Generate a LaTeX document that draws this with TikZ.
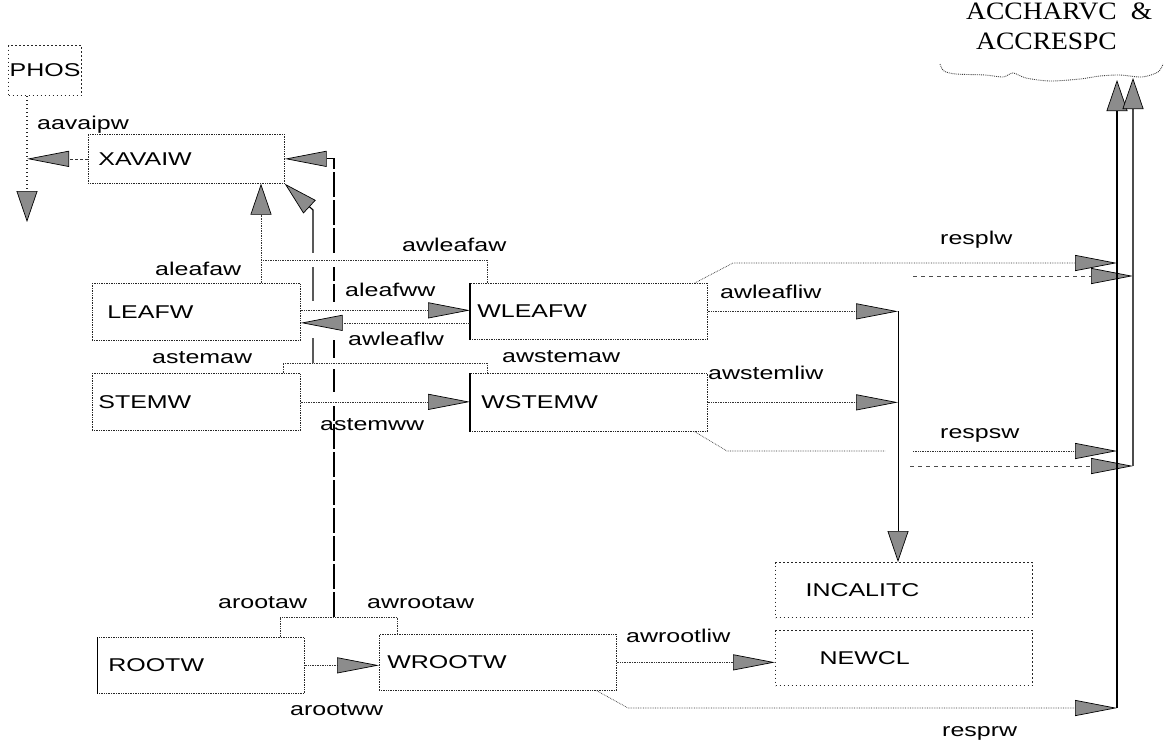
\documentclass[tikz,border=0pt]{standalone}
\usepackage{fontspec}
\setmainfont{Liberation Sans}[FakeStretch=1.35]
\newfontfamily\accfont{Liberation Serif}[FakeStretch=1.1]
\usetikzlibrary{arrows.meta}
\begin{document}
\begin{tikzpicture}[x=1pt,y=-1pt,
  every node/.style={font=\fontsize{18.5}{20}\selectfont},
  box/.style={draw=black!85, densely dotted, line width=0.7pt, anchor=north west, align=left, inner ysep=0pt},
  dbox/.style={draw=black!85, dash pattern=on 1.2pt off 2.8pt, line width=1.1pt, anchor=north west, inner ysep=0pt},
  lab/.style={anchor=west, inner sep=0pt},
  conn/.style={draw=black!80, densely dotted, line width=0.7pt},
  harr/.style={-{Triangle[length=42pt,width=16pt,fill=black!45,color=black,line width=0.7pt]}},
  varr/.style={-{Triangle[length=31pt,width=21pt,fill=black!45,color=black,line width=0.7pt]}},
  darr/.style={-{Triangle[length=34pt,width=18pt,fill=black!45,color=black,line width=0.7pt]}},
]
\useasboundingbox (0,0) rectangle (1174,745);

% ---------- boxes ----------
\node[dbox, minimum height=50pt, text width=73pt, inner xsep=0pt, align=center] (phos) at (8,45) {PHOS};
\node[box, minimum height=49pt, inner xsep=10pt, text width=176pt] (xavaiw) at (88,134) {XAVAIW};
\node[box, minimum height=57pt, inner xsep=15pt, text width=178pt] (leafw) at (92,283) {LEAFW};
\node[box, minimum height=57pt, inner xsep=6pt, text width=196pt] (stemw) at (92,373) {STEMW};
\node[box, minimum height=56pt, inner xsep=7pt, text width=223pt] (wleafw) at (470,283) {WLEAFW};
\node[box, minimum height=58pt, inner xsep=11pt, text width=215pt] (wstemw) at (470,373) {WSTEMW};
\node[box, minimum height=56pt, inner xsep=11pt, text width=185pt] (rootw) at (97,637) {ROOTW};
\node[box, minimum height=56pt, inner xsep=8pt, text width=221pt] (wrootw) at (379,634) {WROOTW};
\node[dbox, minimum height=55pt, inner xsep=30pt, text width=197pt, align=left] (incalitc) at (775,562) {INCALITC};
\node[dbox, minimum height=55pt, inner xsep=44pt, text width=169pt, align=left] (newcl) at (775,630) {NEWCL};
\draw[line width=1.1pt] (wleafw.north west) -- (wleafw.south west);
\draw[line width=1.1pt] (wstemw.north west) -- (wstemw.south west);
\draw[line width=0.9pt] (rootw.north west) -- (rootw.south west);

% cloud
\node[anchor=north west, inner sep=0pt, align=left, font=\accfont\fontsize{25}{30}\selectfont] (acc) at (966,3) {ACCHARVC\hspace{14pt}\&\\\hspace*{10pt}ACCRESPC};
\draw[black!75, densely dotted, line width=0.9pt] plot[smooth] coordinates {(940,64) (944,71) (956,74) (985,75) (1003,77) (1013,73) (1026,78) (1050,81) (1080,79) (1100,76) (1120,75) (1142,77) (1158,72) (1163,64)};

% ---------- coordinates ----------
\coordinate (pdn) at (27,222);
\coordinate (rj) at (334,617);
\coordinate (rl) at (280,617);
\coordinate (rr) at (397,617);
\coordinate (lj) at (261,260);
\coordinate (lr) at (487,260);
\coordinate (sj) at (313,363);
\coordinate (sl) at (283,363);
\coordinate (sr) at (487,363);
\coordinate (sb) at (313,210);
\coordinate (col) at (898,0);
\coordinate (lb) at (733,263);
\coordinate (le) at (1117,263);
\coordinate (l2s) at (913,276);
\coordinate (l2e) at (1133,276);
\coordinate (sb2) at (727,451);
\coordinate (sg1) at (885,451);
\coordinate (sg2) at (913,451);
\coordinate (se) at (1117,451);
\coordinate (s2s) at (910,466);
\coordinate (s2e) at (1133,466);
\coordinate (rb) at (628,708);
\coordinate (re) at (1117,708);
\coordinate (c1) at (1117,80);
\coordinate (c2) at (1133,78);

% ---------- long verticals into XAVAIW ----------
\draw[line width=1.2pt, darr] (sj) -- (sb) -- (xavaiw.south east);
\draw[line width=1.1pt, dash pattern=on 25pt off 3pt, harr] (rj) -- (rj |- xavaiw.east) -- (xavaiw.east);
% gaps where lines cross
\fill[white] (310,253) rectangle (316,267);
\fill[white] (310,301) rectangle (316,338);
\fill[white] (331,253) rectangle (337,267);
\fill[white] (331,302) rectangle (337,337);
\fill[white] (331,358) rectangle (337,369);
\fill[white] (331,392) rectangle (337,406);

% ---------- connectors ----------
\draw[black!85, dash pattern=on 1.2pt off 2.8pt, line width=1.1pt, varr] (phos.south -| pdn) -- (pdn);
\draw[conn, dash pattern=on 3pt off 2pt, harr] (xavaiw.west) -- (xavaiw.west -| pdn);
\draw[conn, varr] (leafw.north -| lj) -- (xavaiw.south -| lj);
\draw[conn] (wleafw.north -| lr) -- (lr) -- (lj);
\draw[conn] (stemw.north -| sl) -- (sl) -- (sr) -- (wstemw.north -| sr);
\draw[conn] (rootw.north -| rl) -- (rl) -- (rr) -- (wrootw.north -| rr);
\draw[conn, harr] ([yshift=1.5pt]leafw.east) -- ([yshift=1.5pt]leafw.east -| wleafw.west);
\draw[conn, harr] ([yshift=-11.5pt]wleafw.west) -- ([yshift=-11.5pt]wleafw.west -| leafw.east);
\draw[conn, harr] (stemw.east) -- (stemw.east -| wstemw.west);
\draw[conn, harr] (rootw.east) -- (rootw.east -| wrootw.west);
\draw[conn, harr] (wleafw.east) -- (wleafw.east -| col);
\draw[conn, harr] (wstemw.east) -- (wstemw.east -| col);
\draw[line width=1pt, varr] (wleafw.east -| col) -- (incalitc.north -| col);
\draw[conn, harr] (wrootw.east) -- (wrootw.east -| newcl.west);
\draw[conn, harr] ([xshift=-13pt]wleafw.north east) -- (lb) -- (le);
\draw[conn] ([xshift=-13pt]wstemw.south east) -- (sb2) -- (sg1);
\draw[conn, harr] (sg2) -- (se);
\draw[conn, harr] ([xshift=-20pt]wrootw.south east) -- (rb) -- (re);
\draw[black!70, dash pattern=on 4pt off 4pt, line width=0.8pt, harr] (l2s) -- (l2e);
\draw[black!70, dash pattern=on 4pt off 4pt, line width=0.8pt, harr] (s2s) -- (s2e);
\draw[line width=1.3pt, varr] (re) -- (c1);
\draw[black!70, line width=1.1pt, varr] (s2e) -- (c2);

% ---------- labels ----------
\node[lab] (l-aavaipw) at (37,125) {aavaipw};
\node[lab] (l-aleafaw) at (155,269) {aleafaw};
\node[lab] (l-awleafaw) at (402,245) {awleafaw};
\node[lab] (l-aleafww) at (345,290) {aleafww};
\node[lab] (l-awleaflw) at (348,339) {awleaflw};
\node[lab] (l-astemaw) at (152,358) {astemaw};
\node[lab] (l-awstemaw) at (502,357) {awstemaw};
\node[lab] (l-astemww) at (320,425) {astemww};
\node[lab] (l-awleafliw) at (720,292) {awleafliw};
\node[lab] (l-awstemliw) at (708,373) {awstemliw};
\node[lab] (l-resplw) at (940,240) {resplw};
\node[lab] (l-respsw) at (940,435) {respsw};
\node[lab] (l-arootaw) at (218,603) {arootaw};
\node[lab] (l-awrootaw) at (367,603) {awrootaw};
\node[lab] (l-arootww) at (290,710) {arootww};
\node[lab] (l-awrootliw) at (626,636) {awrootliw};
\node[lab] (l-resprw) at (942,733) {resprw};
\end{tikzpicture}
\end{document}
